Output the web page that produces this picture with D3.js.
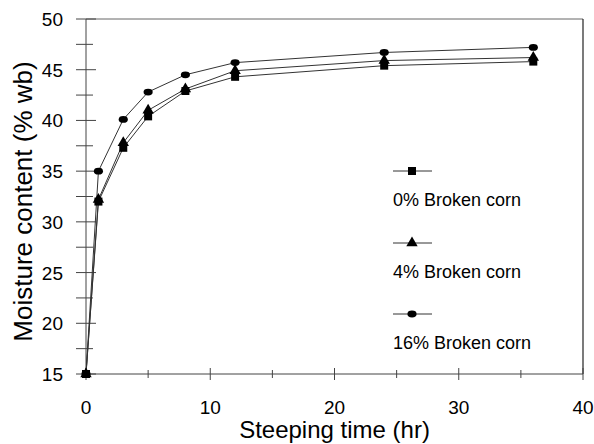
<!DOCTYPE html>
<html>
<head>
<meta charset="utf-8">
<script src="https://cdn.jsdelivr.net/npm/d3@7"></script>
<style>
  body { margin: 0; background: #fff; }
  svg { display: block; font-family: Arial, 'Liberation Sans', sans-serif; }
</style>
</head>
<body>
<div id="chart"></div>
<script>
// steeping time (hr)
const times = [0, 1, 3, 5, 8, 12, 24, 36]
// moisture content (% wb) per broken corn level
const broken0 = [15, 32.0, 37.3, 40.4, 42.9, 44.3, 45.4, 45.8]
const broken4 = [15, 32.2, 37.8, 41.0, 43.1, 44.9, 45.9, 46.2]
const broken16 = [15, 35.0, 40.1, 42.8, 44.5, 45.7, 46.7, 47.2]
const seriesNames = ['0% Broken corn', '4% Broken corn', '16% Broken corn']
const xTicks = [0, 10, 20, 30, 40]
const xMinor = [5, 15, 25, 35]
const yTicks = [15, 20, 25, 30, 35, 40, 45, 50]
const yMinor = [17.5, 22.5, 27.5, 32.5, 37.5, 42.5, 47.5]

function draw() {
  const width = 594
  const height = 444
  const margin = { top: 19, right: 11, bottom: 70, left: 86 }

  const svg = d3.select('#chart')
    .append('svg')
    .attr('width', width)
    .attr('height', height)

  const x = d3.scaleLinear().domain([0, 40]).range([margin.left, width - margin.right])
  const y = d3.scaleLinear().domain([15, 50]).range([height - margin.bottom, margin.top])

  const axisColour = '#444'

  // frame: top and right
  svg.append('line')
    .attr('x1', x(0)).attr('x2', x(40))
    .attr('y1', y(50)).attr('y2', y(50))
    .attr('stroke', '#666').attr('stroke-width', 1)
  svg.append('line')
    .attr('x1', x(40)).attr('x2', x(40))
    .attr('y1', y(50)).attr('y2', y(15))
    .attr('stroke', '#222').attr('stroke-width', 1.2)

  // axes lines
  svg.append('line')
    .attr('x1', x(0)).attr('x2', x(40))
    .attr('y1', y(15)).attr('y2', y(15))
    .attr('stroke', axisColour).attr('stroke-width', 1)
  svg.append('line')
    .attr('x1', x(0)).attr('x2', x(0))
    .attr('y1', y(15)).attr('y2', y(50))
    .attr('stroke', axisColour).attr('stroke-width', 1)

  // y ticks crossing the axis
  svg.selectAll('.ytick')
    .data(yTicks)
    .join('line')
    .attr('x1', x(0) - 10).attr('x2', x(0) + 10)
    .attr('y1', d => y(d)).attr('y2', d => y(d))
    .attr('stroke', axisColour)
  svg.selectAll('.yminor')
    .data(yMinor)
    .join('line')
    .attr('x1', x(0) - 10).attr('x2', x(0) + 7)
    .attr('y1', d => y(d)).attr('y2', d => y(d))
    .attr('stroke', axisColour)

  // x ticks crossing the axis
  svg.selectAll('.xtick')
    .data(xTicks)
    .join('line')
    .attr('x1', d => x(d)).attr('x2', d => x(d))
    .attr('y1', y(15) - 6).attr('y2', y(15) + 6)
    .attr('stroke', axisColour)
  svg.selectAll('.xminor')
    .data(xMinor)
    .join('line')
    .attr('x1', d => x(d)).attr('x2', d => x(d))
    .attr('y1', y(15) - 4).attr('y2', y(15) + 4)
    .attr('stroke', axisColour)

  // tick labels
  svg.selectAll('.ylabel')
    .data(yTicks)
    .join('text')
    .attr('x', 63)
    .attr('y', d => y(d) + 7)
    .attr('text-anchor', 'end')
    .style('font-size', '19px')
    .text(d => d)
  svg.selectAll('.xlabel')
    .data(xTicks)
    .join('text')
    .attr('x', d => x(d))
    .attr('y', 414)
    .attr('text-anchor', 'middle')
    .style('font-size', '19px')
    .text(d => d)

  // axis titles
  svg.append('text')
    .attr('x', x(20))
    .attr('y', 438)
    .attr('text-anchor', 'middle')
    .style('font-size', '24px')
    .text('Steeping time (hr)')
  svg.append('text')
    .attr('transform', `translate(32,${(y(15) + y(50)) / 2 + 5}) rotate(-90)`)
    .attr('text-anchor', 'middle')
    .style('font-size', '26px')
    .text('Moisture content (% wb)')

  // series
  const series = [broken0, broken4, broken16]
  const symbols = [d3.symbolSquare, d3.symbolTriangle, d3.symbolCircle]
  const symbolSizes = [64, 56, 50]

  const line = d3.line()
    .x((d, i) => x(times[i]))
    .y(d => y(d))

  series.forEach((vals, s) => {
    svg.append('path')
      .datum(vals)
      .attr('fill', 'none')
      .attr('stroke', '#333')
      .attr('stroke-width', 1)
      .attr('d', line)
  })

  series.forEach((vals, s) => {
    svg.selectAll('.pt' + s)
      .data(vals)
      .join('path')
      .attr('d', d3.symbol().type(symbols[s]).size(symbolSizes[s]))
      .attr('transform', (d, i) => s === 2
        ? `translate(${x(times[i])},${y(d)}) scale(1.15,0.85)`
        : `translate(${x(times[i])},${y(d)})`)
      .attr('fill', '#000')
  })

  // legend
  const legendY = [171, 243, 314]
  const legend = svg.append('g')
  seriesNames.forEach((name, s) => {
    legend.append('line')
      .attr('x1', 393).attr('x2', 432)
      .attr('y1', legendY[s]).attr('y2', legendY[s])
      .attr('stroke', '#333')
    legend.append('path')
      .attr('d', d3.symbol().type(symbols[s]).size(symbolSizes[s])())
      .attr('transform', s === 2
        ? `translate(412,${legendY[s]}) scale(1.15,0.85)`
        : `translate(412,${legendY[s]})`)
      .attr('fill', '#000')
    legend.append('text')
      .attr('x', 393)
      .attr('y', legendY[s] + 35)
      .style('font-size', '18px')
      .text(name)
  })
}

draw()
</script>
</body>
</html>
